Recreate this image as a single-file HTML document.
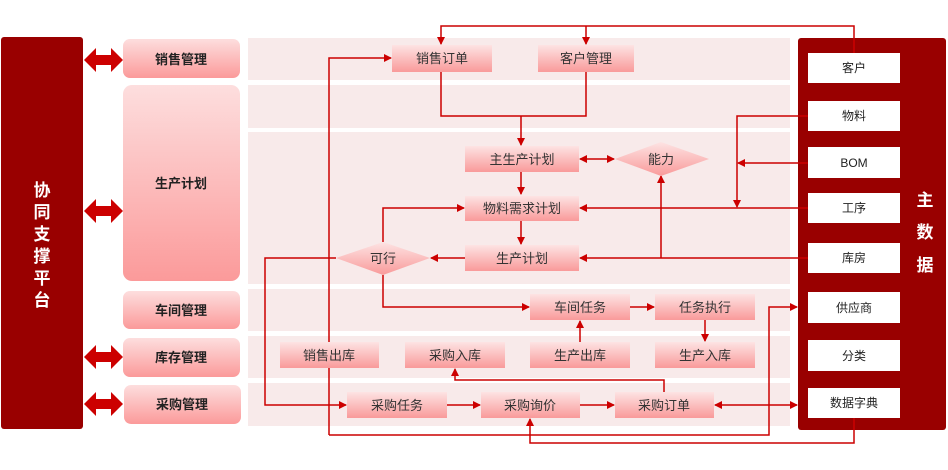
<!DOCTYPE html>
<html><head><meta charset="utf-8"><style>
html,body{margin:0;padding:0;background:#fff;}
svg{display:block;font-family:"Liberation Sans","Noto Sans CJK SC",sans-serif;}
</style></head><body>
<svg width="948" height="470" viewBox="0 0 948 470" xmlns="http://www.w3.org/2000/svg">
<defs>
<linearGradient id="g" x1="0" y1="0" x2="0" y2="1"><stop offset="0" stop-color="#fde3e3"/><stop offset="1" stop-color="#f99a9a"/></linearGradient>
<linearGradient id="gm" x1="0" y1="0" x2="0" y2="1"><stop offset="0" stop-color="#fddede"/><stop offset="1" stop-color="#fb9a9a"/></linearGradient>
<marker id="a" markerWidth="8" markerHeight="8" refX="7" refY="4" orient="auto" markerUnits="userSpaceOnUse"><path d="M0,0 L8,4 L0,8 z" fill="#cc0000"/></marker>
<marker id="s" markerWidth="8" markerHeight="8" refX="1" refY="4" orient="auto" markerUnits="userSpaceOnUse"><path d="M8,0 L0,4 L8,8 z" fill="#cc0000"/></marker>
</defs>
<!-- bands -->
<g fill="#f8eaea">
<rect x="248" y="38" width="542" height="42"/>
<rect x="248" y="85" width="542" height="43"/>
<rect x="248" y="132" width="542" height="152"/>
<rect x="248" y="289" width="542" height="42"/>
<rect x="248" y="336" width="542" height="42"/>
<rect x="248" y="383" width="542" height="43"/>
</g>
<!-- left bar -->
<rect x="1" y="37" width="82" height="392" rx="3" fill="#990000"/>
<g fill="#fff" font-size="17" font-weight="bold" text-anchor="middle">
<text x="42" y="196">协</text><text x="42" y="218">同</text><text x="42" y="240">支</text><text x="42" y="262">撑</text><text x="42" y="284">平</text><text x="42" y="306">台</text>
</g>
<!-- double arrows -->
<g fill="#cc0000">
<path d="M84,60 l12,-12 v7 h15 v-7 l12,12 l-12,12 v-7 h-15 v7 z"/>
<path d="M84,211 l12,-12 v7 h15 v-7 l12,12 l-12,12 v-7 h-15 v7 z"/>
<path d="M84,357 l12,-12 v7 h15 v-7 l12,12 l-12,12 v-7 h-15 v7 z"/>
<path d="M84,404 l12,-12 v7 h15 v-7 l12,12 l-12,12 v-7 h-15 v7 z"/>
</g>
<!-- modules -->
<g fill="url(#gm)">
<rect x="123" y="39" width="117" height="39" rx="7"/>
<rect x="123" y="85" width="117" height="196" rx="9"/>
<rect x="123" y="291" width="117" height="38" rx="7"/>
<rect x="123" y="338" width="117" height="39" rx="7"/>
<rect x="124" y="385" width="117" height="39" rx="7"/>
</g>
<g fill="#222" font-size="13" font-weight="bold" text-anchor="middle">
<text x="181" y="64">销售管理</text><text x="181" y="188">生产计划</text><text x="181" y="315">车间管理</text><text x="181" y="362">库存管理</text><text x="182" y="409">采购管理</text>
</g>
<!-- right bar -->
<rect x="798" y="38" width="148" height="392" rx="3" fill="#990000"/>
<g fill="#fff" font-size="17" font-weight="bold" text-anchor="middle">
<text x="925" y="206">主</text><text x="925" y="238">数</text><text x="925" y="271">据</text>
</g>
<g fill="#fff">
<rect x="808" y="53" width="92" height="30"/><rect x="808" y="101" width="92" height="30"/><rect x="808" y="147" width="92" height="31"/><rect x="808" y="193" width="92" height="30"/><rect x="808" y="243" width="92" height="30"/><rect x="808" y="292" width="92" height="31"/><rect x="808" y="340" width="92" height="31"/><rect x="808" y="388" width="92" height="30"/>
</g>
<g fill="#222" font-size="12" text-anchor="middle">
<text x="854" y="72">客户</text><text x="854" y="120">物料</text><text x="854" y="167">BOM</text><text x="854" y="212">工序</text><text x="854" y="262">库房</text><text x="854" y="312">供应商</text><text x="854" y="360">分类</text><text x="854" y="407">数据字典</text>
</g>
<!-- connectors -->
<g stroke="#cc0000" stroke-width="1.5" fill="none">
<path d="M854,53 V26 H441 V44" marker-end="url(#a)"/>
<path d="M586,26 V44" marker-end="url(#a)"/>
<path d="M441,72 V116 H586 V72"/>
<path d="M521,116 V145" marker-end="url(#a)"/>
<path d="M580,159 H614" marker-start="url(#s)" marker-end="url(#a)"/>
<path d="M521,172 V194" marker-end="url(#a)"/>
<path d="M521,221 V244" marker-end="url(#a)"/>
<path d="M808,116 H737 V207" marker-end="url(#a)"/>
<path d="M808,163 H738" marker-end="url(#a)"/>
<path d="M808,208 H580" marker-end="url(#a)"/>
<path d="M808,258 H580" marker-end="url(#a)"/>
<path d="M661,258 V176" marker-end="url(#a)"/>
<path d="M465,258 H431" marker-end="url(#a)"/>
<path d="M383,242 V208 H464" marker-end="url(#a)"/>
<path d="M383,275 V307 H529" marker-end="url(#a)"/>
<path d="M336,258 H265 V405 H346" marker-end="url(#a)"/>
<path d="M329,435 V58 H391" marker-end="url(#a)"/>
<path d="M329,435 H769 V307 H797" marker-end="url(#a)"/>
<path d="M854,418 V443 H530 V419" marker-end="url(#a)"/>
<path d="M664,392 V380 H455 V369" marker-end="url(#a)"/>
<path d="M447,405 H480" marker-end="url(#a)"/>
<path d="M580,405 H614" marker-end="url(#a)"/>
<path d="M715,405 H797" marker-start="url(#s)" marker-end="url(#a)"/>
<path d="M630,307 H654" marker-end="url(#a)"/>
<path d="M705,320 V341" marker-end="url(#a)"/>
<path d="M580,342 V321" marker-end="url(#a)"/>
</g>
<!-- nodes -->
<g fill="url(#g)">
<rect x="392" y="45" width="100" height="27"/>
<rect x="538" y="45" width="96" height="27"/>
<rect x="465" y="146" width="114" height="26"/>
<rect x="465" y="196" width="114" height="25"/>
<rect x="465" y="245" width="114" height="26"/>
<path d="M615,159 L661,142 L709,159 L661,176 z"/>
<path d="M336,258 L383,242 L430,258 L383,275 z"/>
<rect x="530" y="294" width="100" height="26"/>
<rect x="655" y="294" width="100" height="26"/>
<rect x="280" y="342" width="99" height="26"/>
<rect x="405" y="342" width="100" height="26"/>
<rect x="530" y="342" width="100" height="26"/>
<rect x="655" y="342" width="100" height="26"/>
<rect x="347" y="392" width="100" height="26"/>
<rect x="481" y="392" width="99" height="26"/>
<rect x="615" y="392" width="99" height="26"/>
</g>
<g fill="#333" font-size="13" text-anchor="middle">
<text x="442" y="63">销售订单</text><text x="586" y="63">客户管理</text>
<text x="522" y="164">主生产计划</text><text x="522" y="213">物料需求计划</text><text x="522" y="263">生产计划</text>
<text x="661" y="164">能力</text><text x="383" y="263">可行</text>
<text x="580" y="312">车间任务</text><text x="705" y="312">任务执行</text>
<text x="329" y="360">销售出库</text><text x="455" y="360">采购入库</text><text x="580" y="360">生产出库</text><text x="705" y="360">生产入库</text>
<text x="397" y="410">采购任务</text><text x="530" y="410">采购询价</text><text x="664" y="410">采购订单</text>
</g>
</svg>
</body></html>
